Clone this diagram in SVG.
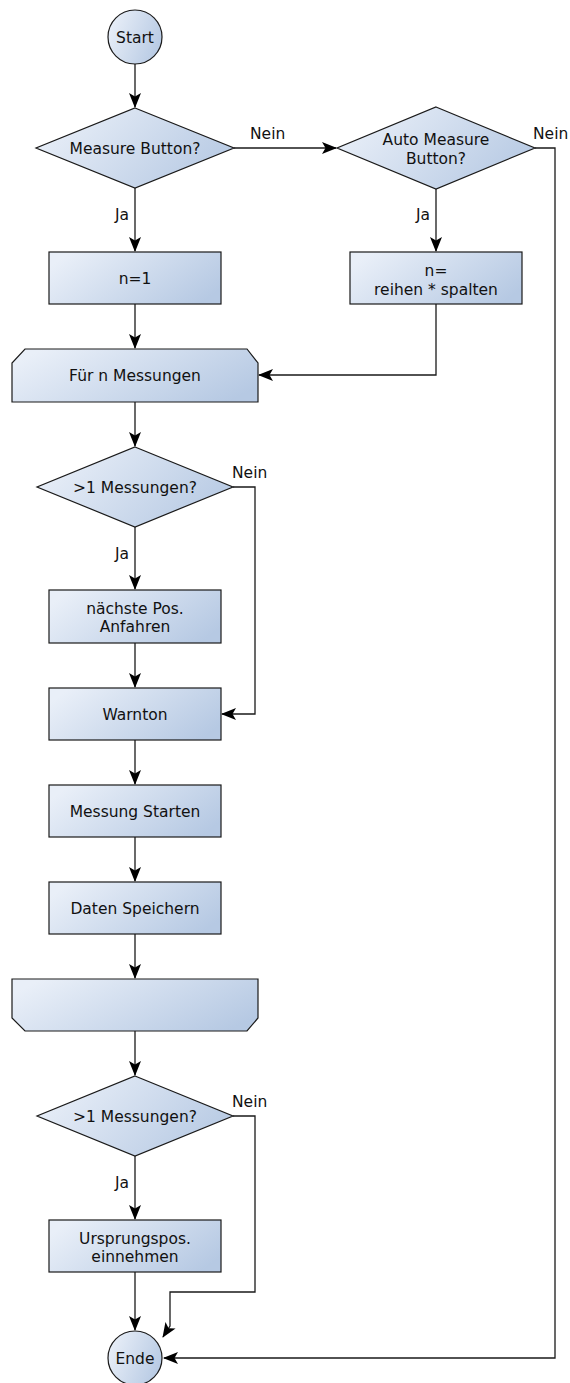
<svg xmlns="http://www.w3.org/2000/svg" width="570" height="1383" viewBox="0 0 570 1383">
<style>
.s{fill:url(#g);stroke:#1a1a1a;stroke-width:1.2}
.t{font-family:"DejaVu Sans",sans-serif;font-size:15.5px;fill:#111;text-anchor:middle}
.l{font-family:"DejaVu Sans",sans-serif;font-size:15.5px;fill:#111}
.c{fill:none;stroke:#1a1a1a;stroke-width:1.3}
</style>
<defs>
<linearGradient id="g" x1="0" y1="0.3" x2="1" y2="0.7">
<stop offset="0" stop-color="#e9eff8"/>
<stop offset="1" stop-color="#b6c9e3"/>
</linearGradient>
<marker id="a" viewBox="0 0 15 12" refX="14" refY="6" markerWidth="15" markerHeight="12" markerUnits="userSpaceOnUse" orient="auto">
<path d="M0,0 L15,6 L0,12 L3.5,6 z" fill="#000"/>
</marker>
</defs>
<g id="connectors">
<path class="c" d="M135,64 V107" marker-end="url(#a)"/>
<path class="c" d="M234,148 H336" marker-end="url(#a)"/>
<path class="c" d="M135,188 V251" marker-end="url(#a)"/>
<path class="c" d="M436,189 V251" marker-end="url(#a)"/>
<path class="c" d="M135,304 V348" marker-end="url(#a)"/>
<path class="c" d="M436,304 V375 H259" marker-end="url(#a)"/>
<path class="c" d="M535,148 H555 V1358 H164" marker-end="url(#a)"/>
<path class="c" d="M135,402 V446" marker-end="url(#a)"/>
<path class="c" d="M233,487 H255 V714 H222" marker-end="url(#a)"/>
<path class="c" d="M135,527 V589" marker-end="url(#a)"/>
<path class="c" d="M135,643 V687" marker-end="url(#a)"/>
<path class="c" d="M135,740 V784" marker-end="url(#a)"/>
<path class="c" d="M135,837 V881" marker-end="url(#a)"/>
<path class="c" d="M135,934 V978" marker-end="url(#a)"/>
<path class="c" d="M135,1031 V1075" marker-end="url(#a)"/>
<path class="c" d="M135,1156 V1219" marker-end="url(#a)"/>
<path class="c" d="M233,1116 H255 V1292 H170 V1326 L163,1337" marker-end="url(#a)"/>
<path class="c" d="M135,1272 V1330" marker-end="url(#a)"/>
<text class="l" x="250" y="139">Nein</text>
<text class="l" x="533" y="139">Nein</text>
<text class="l" x="115" y="220">Ja</text>
<text class="l" x="416" y="220">Ja</text>
<text class="l" x="232" y="478">Nein</text>
<text class="l" x="115" y="559">Ja</text>
<text class="l" x="232" y="1107">Nein</text>
<text class="l" x="115" y="1188">Ja</text>
</g>
<g id="start"><circle class="s" cx="135" cy="37" r="27"/><text class="t" x="135" y="43">Start</text></g>
<g id="measure"><path class="s" d="M135,108 L234,148 L135,188 L36,148 Z"/><text class="t" x="135" y="154">Measure Button?</text></g>
<g id="auto"><path class="s" d="M436,107 L535,148 L436,189 L337,148 Z"/><text class="t" x="436" y="145">Auto Measure</text><text class="t" x="436" y="164">Button?</text></g>
<g id="n1"><rect class="s" x="49" y="252" width="172" height="52"/><text class="t" x="135" y="284">n=1</text></g>
<g id="nrs"><rect class="s" x="350" y="252" width="172" height="52"/><text class="t" x="436" y="276">n=</text><text class="t" x="436" y="295">reihen * spalten</text></g>
<g id="loopstart"><path class="s" d="M25,349 H247 L258,363 V402 H12 V363 Z"/><text class="t" x="135" y="381">Für n Messungen</text></g>
<g id="dec2"><path class="s" d="M135,447 L233,487 L135,527 L37,487 Z"/><text class="t" x="135" y="493">&gt;1 Messungen?</text></g>
<g id="naechste"><rect class="s" x="49" y="590" width="172" height="53"/><text class="t" x="135" y="614">nächste Pos.</text><text class="t" x="135" y="632">Anfahren</text></g>
<g id="warnton"><rect class="s" x="49" y="688" width="172" height="52"/><text class="t" x="135" y="720">Warnton</text></g>
<g id="messung"><rect class="s" x="49" y="785" width="172" height="52"/><text class="t" x="135" y="817">Messung Starten</text></g>
<g id="daten"><rect class="s" x="49" y="882" width="172" height="52"/><text class="t" x="135" y="914">Daten Speichern</text></g>
<g id="loopend"><path class="s" d="M12,979 H258 V1018 L247,1031 H25 L12,1018 Z"/></g>
<g id="dec3"><path class="s" d="M135,1076 L233,1116 L135,1156 L37,1116 Z"/><text class="t" x="135" y="1122">&gt;1 Messungen?</text></g>
<g id="urs"><rect class="s" x="49" y="1220" width="172" height="52"/><text class="t" x="135" y="1244">Ursprungspos.</text><text class="t" x="135" y="1262">einnehmen</text></g>
<g id="ende"><circle class="s" cx="135" cy="1358" r="27"/><text class="t" x="135" y="1364">Ende</text></g>
</svg>
